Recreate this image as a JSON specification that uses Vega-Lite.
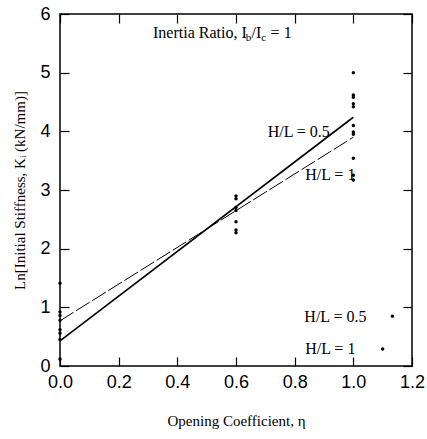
{
  "$schema": "https://vega.github.io/schema/vega-lite/v6.json",
  "width": 352,
  "height": 352,
  "autosize": {"type": "none"},
  "padding": {"left": 60, "top": 14, "right": 15, "bottom": 73},
  "background": "white",
  "config": {
    "view": {"stroke": "black", "strokeWidth": 1.5},
    "axis": {
      "domain": false,
      "grid": false,
      "tickSize": -9,
      "tickColor": "black",
      "tickWidth": 1.2,
      "labelFlush": false,
      "labelFont": "Liberation Sans",
      "labelFontSize": 18,
      "labelColor": "black",
      "titleFont": "Liberation Serif",
      "titleFontSize": 15,
      "titleFontWeight": "normal",
      "titleColor": "black"
    }
  },
  "datasets": {
    "pts": [
      {"x": 0, "y": 1.41}, {"x": 0, "y": 0.92}, {"x": 0, "y": 0.86}, {"x": 0, "y": 0.78},
      {"x": 0, "y": 0.62}, {"x": 0, "y": 0.56}, {"x": 0, "y": 0.45}, {"x": 0, "y": 0.12},
      {"x": 0.6, "y": 2.9}, {"x": 0.6, "y": 2.85}, {"x": 0.6, "y": 2.7}, {"x": 0.6, "y": 2.65},
      {"x": 0.6, "y": 2.46}, {"x": 0.6, "y": 2.32}, {"x": 0.6, "y": 2.27},
      {"x": 1.0, "y": 5.0}, {"x": 1.0, "y": 4.62}, {"x": 1.0, "y": 4.58}, {"x": 1.0, "y": 4.47},
      {"x": 1.0, "y": 4.42}, {"x": 1.0, "y": 4.1}, {"x": 1.0, "y": 3.99}, {"x": 1.0, "y": 3.95},
      {"x": 1.0, "y": 3.54}, {"x": 1.0, "y": 3.25}, {"x": 1.0, "y": 3.17}
    ],
    "legdots": [
      {"x": 1.133, "y": 0.85}, {"x": 1.1, "y": 0.29}
    ],
    "lines": [
      {"series": "H/L = 0.5", "x": 0, "y": 0.43},
      {"series": "H/L = 0.5", "x": 1.0, "y": 4.24},
      {"series": "H/L = 1", "x": 0, "y": 0.77},
      {"series": "H/L = 1", "x": 1.0, "y": 3.9}
    ],
    "labels": [
      {"text": "H/L = 0.5", "x": 0.92, "y": 3.99},
      {"text": "H/L = 1", "x": 1.007, "y": 3.25},
      {"text": "H/L = 0.5", "x": 1.045, "y": 0.83},
      {"text": "H/L = 1", "x": 1.007, "y": 0.29}
    ],
    "title": [
      {"text": "Inertia Ratio, I", "x": 0.317, "y": 5.67, "part": "main"},
      {"text": "b", "x": 0.633, "y": 5.67, "part": "sub"},
      {"text": "/I", "x": 0.653, "y": 5.67, "part": "main"},
      {"text": "c", "x": 0.686, "y": 5.67, "part": "sub"},
      {"text": "= 1", "x": 0.718, "y": 5.67, "part": "main"}
    ]
  },
  "layer": [
    {
      "data": {"name": "pts"},
      "mark": {"type": "circle", "color": "black", "size": 12, "opacity": 1},
      "encoding": {
        "x": {"field": "x", "type": "quantitative", "scale": {"domain": [0, 1.2], "nice": false},
          "axis": {"orient": "bottom", "values": [0, 0.2, 0.4, 0.6, 0.8, 1.0, 1.2], "format": ".1f", "labelPadding": 16, "title": "Opening Coefficient, η", "titlePadding": 22}},
        "y": {"field": "y", "type": "quantitative", "scale": {"domain": [0, 6], "nice": false},
          "axis": {"orient": "left", "values": [0, 1, 2, 3, 4, 5, 6], "labelPadding": 19, "title": "Ln[Initial Stiffness, Kᵢ (kN/mm)]", "titlePadding": 12}}
      }
    },
    {
      "data": {"name": "legdots"},
      "mark": {"type": "circle", "color": "black", "size": 12, "opacity": 1},
      "encoding": {
        "x": {"field": "x", "type": "quantitative", "axis": {"orient": "top", "values": [0, 0.2, 0.4, 0.6, 0.8, 1.0, 1.2], "labels": false, "title": null}},
        "y": {"field": "y", "type": "quantitative", "axis": {"orient": "right", "values": [0, 1, 2, 3, 4, 5, 6], "labels": false, "title": null}}
      }
    },
    {
      "data": {"name": "lines"},
      "transform": [{"filter": "datum.series === 'H/L = 0.5'"}],
      "mark": {"type": "line", "color": "black", "strokeWidth": 1.6},
      "encoding": {
        "x": {"field": "x", "type": "quantitative", "axis": null},
        "y": {"field": "y", "type": "quantitative", "axis": null}
      }
    },
    {
      "data": {"name": "lines"},
      "transform": [{"filter": "datum.series === 'H/L = 1'"}],
      "mark": {"type": "line", "color": "black", "strokeWidth": 1, "strokeDash": [16, 3]},
      "encoding": {
        "x": {"field": "x", "type": "quantitative", "axis": null},
        "y": {"field": "y", "type": "quantitative", "axis": null}
      }
    },
    {
      "data": {"name": "labels"},
      "mark": {"type": "text", "font": "Liberation Serif", "fontSize": 16, "align": "right", "baseline": "middle", "color": "black"},
      "encoding": {
        "x": {"field": "x", "type": "quantitative", "axis": null},
        "y": {"field": "y", "type": "quantitative", "axis": null},
        "text": {"field": "text"}
      }
    },
    {
      "data": {"name": "title"},
      "transform": [{"filter": "datum.part === 'main'"}],
      "mark": {"type": "text", "font": "Liberation Serif", "fontSize": 16, "align": "left", "baseline": "middle", "color": "black"},
      "encoding": {
        "x": {"field": "x", "type": "quantitative", "axis": null},
        "y": {"field": "y", "type": "quantitative", "axis": null},
        "text": {"field": "text"}
      }
    },
    {
      "data": {"name": "title"},
      "transform": [{"filter": "datum.part === 'sub'"}],
      "mark": {"type": "text", "font": "Liberation Serif", "fontSize": 11, "align": "left", "baseline": "middle", "dy": 5, "color": "black"},
      "encoding": {
        "x": {"field": "x", "type": "quantitative", "axis": null},
        "y": {"field": "y", "type": "quantitative", "axis": null},
        "text": {"field": "text"}
      }
    }
  ]
}
